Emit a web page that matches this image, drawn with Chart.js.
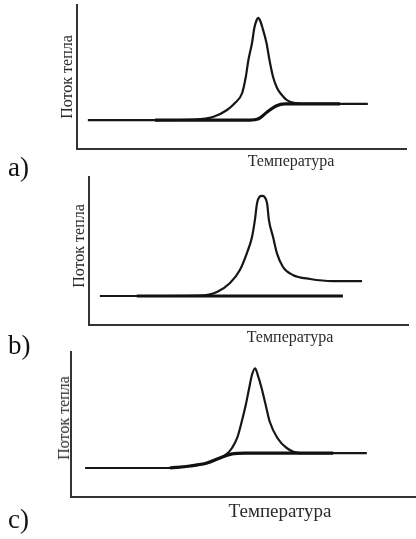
<!DOCTYPE html>
<html>
<head>
<meta charset="utf-8">
<script src="https://cdn.jsdelivr.net/npm/chart.js@4/dist/chart.umd.min.js"></script>
<style>
  html, body { margin: 0; padding: 0; background: #fff; }
  #wrap { position: relative; width: 416px; height: 539px; overflow: hidden; font-family: "Liberation Serif", "Times New Roman", serif; color: #2a2a2a; }
  canvas { position: absolute; left: 0; }
  .t { position: absolute; white-space: nowrap; line-height: 1; }
  .yl { transform-origin: center center; transform: translate(-50%, -50%) rotate(-90deg); }
  .xl { transform: translate(-50%, -50%); }
  .lab { font-size: 27px; color: #111; }
</style>
</head>
<body>
<div id="wrap">
  <canvas id="ca" width="416" height="175" style="top:0px"></canvas>
  <canvas id="cb" width="416" height="175" style="top:170px"></canvas>
  <canvas id="cc" width="416" height="194" style="top:345px"></canvas>

  <div class="t yl" style="left:67px; top:77px; font-size:16px;">Поток тепла</div>
  <div class="t xl" style="left:291px; top:161px; font-size:16px;">Температура</div>
  <div class="t lab" style="left:8px; top:154px;">a)</div>

  <div class="t yl" style="left:79px; top:246px; font-size:16px;">Поток тепла</div>
  <div class="t xl" style="left:290px; top:337px; font-size:16px;">Температура</div>
  <div class="t lab" style="left:8px; top:332px;">b)</div>

  <div class="t yl" style="left:64px; top:418px; font-size:16px;">Поток тепла</div>
  <div class="t xl" style="left:280px; top:510px; font-size:19px;">Температура</div>
  <div class="t lab" style="left:8px; top:506px;">c)</div>
</div>
<script>
// Panel a) — measured curve with peak and step baseline
const curveA_T = [3.3, 23.7, 35.9, 41.3, 45.6, 48.0, 50.2, 51.3, 52.1, 53.2, 53.9, 54.5, 55.1, 55.7, 56.4, 57.6, 58.5, 59.6, 60.8, 62.0, 63.8, 66.3, 70.8, 88.4];
const curveA_Q = [20.1, 20.1, 20.5, 22.2, 27.1, 31.9, 38.9, 50.0, 61.8, 73.6, 84.0, 88.9, 91.0, 88.9, 84.0, 73.6, 61.8, 50.0, 42.4, 38.2, 34.0, 31.9, 31.3, 31.3];
const baseA_T = [23.7, 52.6, 55.0, 57.8, 60.5, 63.2, 79.9];
const baseA_Q = [20.1, 20.1, 20.8, 25.7, 29.9, 31.3, 31.3];

// Panel b) — peak with flat baseline
const curveB_T = [3.4, 15.0, 34.8, 40.1, 44.2, 47.3, 49.5, 51.1, 52.0, 52.7, 54.2, 55.8, 56.4, 57.7, 58.9, 60.8, 63.9, 69.3, 76.5, 85.6];
const curveB_Q = [19.6, 19.6, 19.9, 22.3, 28.4, 37.2, 48.6, 59.5, 70.9, 82.4, 87.2, 82.4, 70.9, 59.5, 48.6, 39.2, 33.8, 31.1, 29.7, 29.7];
const baseB_T = [15.0, 79.6];
const baseB_Q = [19.6, 19.6];

// Panel c) — peak after sigmoidal baseline shift
const curveC_T = [4.1, 27.9, 34.6, 39.5, 43.3, 45.3, 46.8, 48.3, 49.6, 50.8, 51.8, 52.6, 53.5, 54.3, 55.4, 56.6, 57.8, 60.0, 62.7, 66.6, 86.0];
const curveC_Q = [20.0, 20.0, 21.4, 23.4, 26.9, 29.7, 33.8, 40.7, 51.7, 63.4, 75.2, 84.1, 88.8, 84.1, 75.2, 63.4, 51.7, 40.7, 33.8, 30.3, 30.3];
const baseC_T = [28.8, 34.6, 39.5, 43.3, 46.8, 50.6, 76.2];
const baseC_Q = [20.0, 21.4, 23.4, 26.9, 29.7, 30.3, 30.3];

function pts(xs, ys) { return xs.map((x, i) => ({ x: x, y: ys[i] })); }

function makeChart(id, curveT, curveQ, baseT, baseQ, pad) {
  new Chart(document.getElementById(id), {
    type: 'line',
    data: {
      datasets: [
        { data: pts(baseT, baseQ), borderColor: '#111', borderWidth: 3.2, pointRadius: 0, cubicInterpolationMode: 'monotone', fill: false },
        { data: pts(curveT, curveQ), borderColor: '#161616', borderWidth: 2.2, pointRadius: 0, cubicInterpolationMode: 'monotone', fill: false }
      ]
    },
    options: {
      responsive: false,
      animation: false,
      devicePixelRatio: 1,
      layout: { padding: pad },
      plugins: { legend: { display: false }, tooltip: { enabled: false } },
      scales: {
        x: { type: 'linear', min: 0, max: 100, ticks: { display: false }, grid: { display: false, drawTicks: false }, border: { display: true, color: '#333', width: 2 } },
        y: { type: 'linear', min: 0, max: 100, ticks: { display: false }, grid: { display: false, drawTicks: false }, border: { display: true, color: '#333', width: 2 } }
      }
    }
  });
}

makeChart('ca', curveA_T, curveA_Q, baseA_T, baseA_Q, { left: 77, top: 5, right: 10, bottom: 26 });
makeChart('cb', curveB_T, curveB_Q, baseB_T, baseB_Q, { left: 89, top: 7, right: 8, bottom: 20 });
makeChart('cc', curveC_T, curveC_Q, baseC_T, baseC_Q, { left: 71, top: 7, right: 1, bottom: 42 });
</script>
</body>
</html>
